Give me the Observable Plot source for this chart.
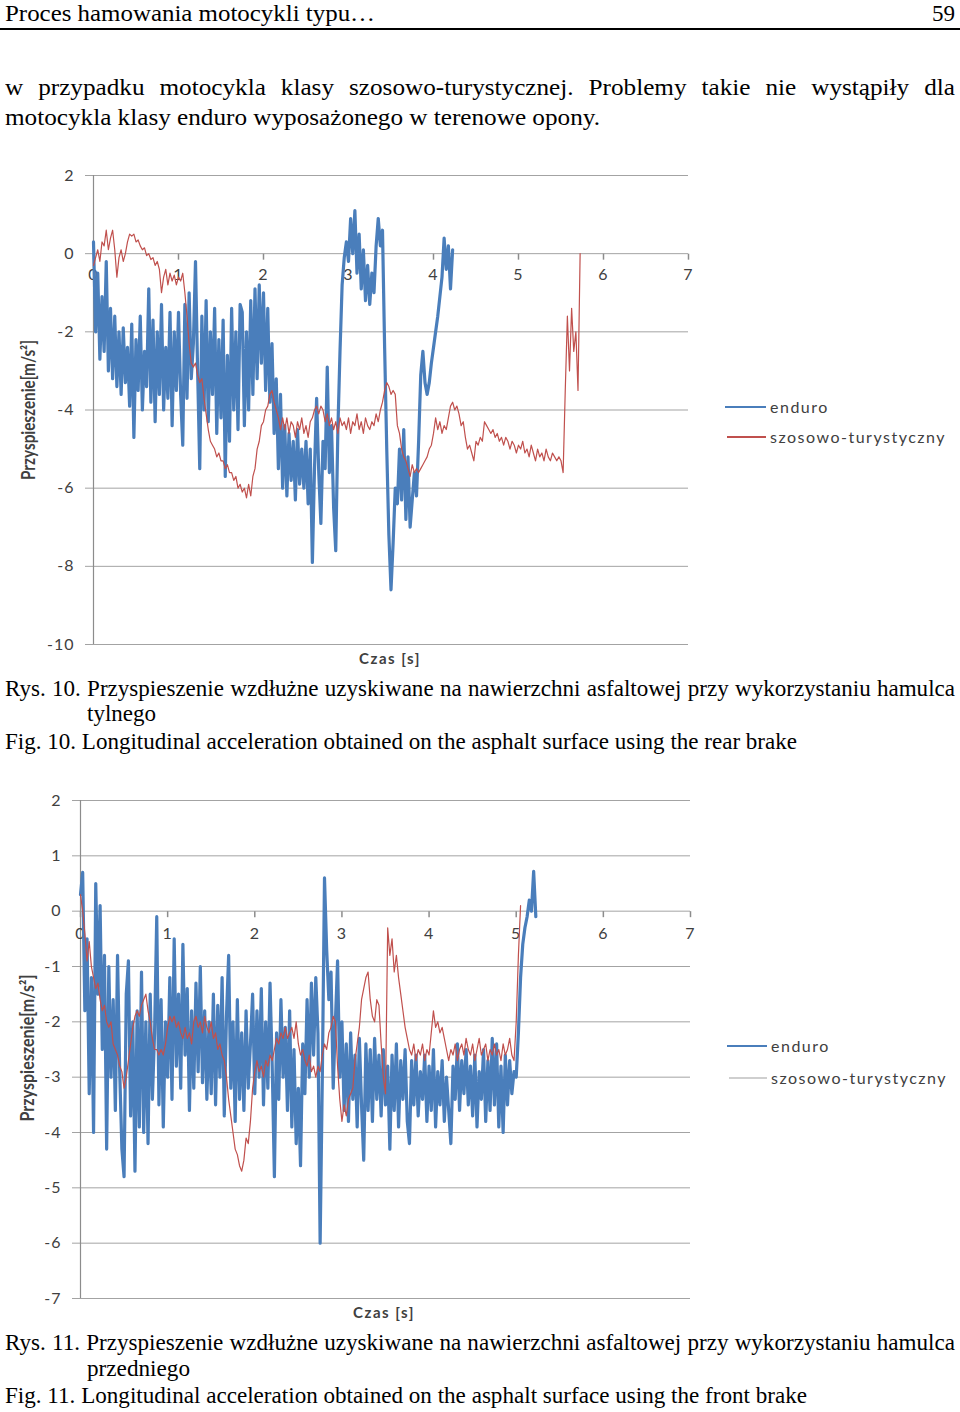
<!DOCTYPE html>
<html><head><meta charset="utf-8">
<script src="https://cdn.jsdelivr.net/npm/d3@7"></script>
<script src="https://cdn.jsdelivr.net/npm/@observablehq/plot@0.6"></script>
<style>
html,body{margin:0;padding:0;background:#fff;}
#page{position:relative;width:960px;height:1412px;overflow:hidden;background:#fff;}
.serif{position:absolute;font-family:"Liberation Serif","Times New Roman",Times,serif;color:#000;line-height:1;white-space:nowrap;transform-origin:0 0;}
.sans{position:absolute;font-family:Lato,"Open Sans",sans-serif;color:#404040;line-height:1;white-space:nowrap;}
.chart{position:absolute;left:0;}
.leg{position:absolute;height:2px;}
</style></head><body><div id="page"></div>
<script>
// ---------- data ----------
const STEP = 0.025; // seconds between samples
const xTicks = [0, 1, 2, 3, 4, 5, 6, 7];
const yTicks1 = [2, 0, -2, -4, -6, -8, -10];
const yTicks2 = [2, 1, 0, -1, -2, -3, -4, -5, -6, -7];
const seriesNames = ["enduro", "szosowo-turystyczny"];

// Rys. 10 – rear brake
const enduro1 = [
  0.3,-2.0,-0.5,-2.7,-1.1,-2.5,-0.2,-3.0,-1.4,-3.2,
  -1.6,-3.4,-2.0,-3.6,-1.9,-3.3,-2.4,-3.9,-1.8,-4.7,
  -2.2,-3.5,-1.6,-4.0,-2.5,-3.4,-0.9,-3.8,-1.7,-4.3,
  -2.0,-3.6,-1.3,-4.0,-2.4,-3.7,-1.5,-4.4,-2.0,-3.5,
  -1.5,-3.6,-4.9,-1.3,-3.7,-1.0,-3.2,-2.3,-0.2,-3.0,
  -5.5,-1.6,-4.0,-1.2,-4.3,-2.0,-3.6,-1.4,-4.6,-2.2,
  -4.2,-1.7,-5.7,-2.6,-4.8,-1.4,-4.0,-2.0,-4.5,-1.3,
  -1.5,-4.4,-2.0,-4.0,-1.2,-3.6,-0.9,-3.2,-0.8,-2.8,
  -1.0,-3.5,-1.4,-3.8,-2.3,-4.6,-3.2,-5.5,-3.6,-6.0,
  -4.4,-6.2,-4.6,-5.8,-4.8,-6.3,-4.5,-5.9,-5.0,-6.0,
  -4.8,-6.4,-5.0,-7.9,-5.5,-3.7,-5.6,-6.9,-4.8,-5.5,
  -2.9,-5.6,-4.4,-6.5,-7.6,-4.5,-2.5,-0.8,-0.1,0.3,
  -0.2,0.9,0.0,1.1,-0.5,0.5,-0.9,0.1,-1.2,-0.3,
  -1.3,-0.5,-1.0,0.2,0.9,0.2,0.6,-2.4,-5.0,-7.2,
  -8.6,-7.4,-6.0,-6.4,-5.0,-6.3,-4.5,-6.8,-5.2,-7.0,
  -6.3,-5.6,-6.2,-4.8,-3.1,-2.5,-3.3,-3.6,-3.3,-2.8,
  -2.4,-2.0,-1.6,-1.1,-0.6,0.4,-0.4,0.2,-0.9,0.1
];
const szosowo1 = [
  -0.3,-0.1,0.1,-0.2,0.3,0.2,0.6,0.1,0.4,0.6,
  0.1,-0.6,-0.1,0.1,-0.2,0.0,0.3,0.5,0.45,0.5,
  0.3,0.35,0.2,0.1,0.15,-0.05,0.0,-0.15,-0.1,-0.3,
  -0.2,-0.4,-1.0,-0.6,-0.4,-0.8,-0.5,-0.7,-0.55,-0.8,
  -0.6,-0.7,-0.5,-1.0,-1.6,-2.3,-2.8,-2.9,-2.8,-3.1,
  -3.3,-3.2,-3.7,-4.1,-4.5,-4.8,-4.9,-5.0,-5.2,-5.1,
  -5.3,-5.3,-5.5,-5.4,-5.6,-5.6,-5.8,-5.7,-6.0,-5.9,
  -6.1,-6.0,-6.25,-5.9,-6.2,-5.7,-5.5,-5.0,-4.8,-4.4,
  -4.3,-4.0,-3.9,-3.6,-3.5,-3.8,-4.0,-4.2,-4.5,-4.2,
  -4.5,-4.2,-4.6,-4.3,-4.4,-4.7,-4.3,-4.5,-4.2,-4.6,
  -4.4,-4.7,-4.3,-4.2,-4.0,-3.9,-4.1,-3.9,-4.0,-4.3,
  -4.1,-4.4,-4.2,-4.5,-4.3,-4.6,-4.2,-4.4,-4.3,-4.5,
  -4.2,-4.6,-4.3,-4.4,-4.1,-4.5,-4.3,-4.6,-4.2,-4.4,
  -4.5,-4.3,-4.4,-4.1,-4.3,-4.0,-3.8,-3.5,-3.3,-3.4,
  -3.6,-3.5,-3.6,-4.4,-4.6,-5.0,-5.2,-5.3,-5.5,-5.7,
  -5.4,-5.6,-5.5,-5.6,-5.5,-5.4,-5.3,-5.2,-5.0,-4.9,
  -4.6,-4.2,-4.5,-4.3,-4.6,-4.4,-4.5,-4.2,-3.9,-3.8,
  -4.0,-3.9,-4.1,-4.4,-4.3,-4.7,-5.0,-4.9,-5.1,-5.3,
  -4.8,-4.9,-4.7,-4.8,-4.3,-4.4,-4.5,-4.6,-4.5,-4.7,
  -4.6,-4.8,-4.7,-4.9,-4.7,-4.8,-5.0,-4.8,-4.9,-5.1,
  -4.9,-5.0,-4.8,-5.1,-5.0,-5.2,-4.9,-5.1,-5.3,-5.0,
  -5.2,-5.1,-5.3,-5.0,-5.2,-5.3,-5.1,-5.2,-5.3,-5.2,
  -5.3,-5.6,-3.5,-1.6,-3.0,-1.4,-2.5,-2.0,-3.5,0.0
];

// Rys. 11 – front brake
const enduro2 = [
  0.3,0.7,-1.8,-0.5,-3.3,-1.2,-4.0,0.5,-1.5,0.1,
  -2.5,-0.8,-4.3,-1.0,-3.0,-1.6,-3.6,-0.8,-2.9,-4.3,
  -4.8,-1.5,-0.9,-3.7,-2.0,-4.7,-1.8,-3.9,-1.1,-4.0,
  -2.0,-4.2,-1.5,-3.4,-2.2,-0.1,-3.5,-1.6,-3.9,-2.0,
  -3.0,-1.2,-3.4,-0.5,-2.8,-1.5,-3.2,-0.6,-2.6,-1.4,
  -3.6,-1.8,-3.2,-1.3,-2.9,-1.0,-3.1,-1.8,-3.4,-2.0,
  -3.3,-1.5,-3.5,-1.7,-3.0,-1.2,-3.7,-1.9,-0.8,-3.2,
  -2.0,-3.8,-1.6,-3.4,-2.2,-3.6,-1.8,-3.2,-2.4,-1.5,
  -3.3,-1.8,-3.0,-1.4,-3.5,-2.0,-3.2,-1.3,-2.8,-4.8,
  -2.2,-3.4,-1.6,-3.0,-2.1,-3.6,-1.8,-3.9,-2.5,-4.2,
  -3.2,-4.6,-2.4,-3.3,-1.6,-3.0,-1.3,-2.6,-1.2,-2.2,
  -6.0,-3.0,0.6,-0.7,-1.6,-1.1,-3.2,-2.0,-0.9,-3.0,
  -2.0,-3.6,-2.4,-3.8,-2.2,-3.4,-2.6,-3.9,-2.3,-3.5,
  -4.5,-2.4,-3.6,-2.5,-3.8,-2.3,-3.4,-2.6,-3.7,-2.5,
  -3.5,-2.8,-4.3,-2.6,-3.6,-2.4,-3.9,-2.7,-3.4,-2.5,
  -3.8,-4.2,-2.7,-3.5,-2.6,-3.7,-2.9,-3.4,-2.6,-3.8,
  -2.8,-3.6,-2.5,-3.9,-2.9,-3.5,-2.7,-3.8,-3.0,-3.6,
  -4.2,-2.8,-3.4,-2.4,-3.6,-2.7,-3.3,-2.5,-3.5,-2.8,
  -3.7,-2.6,-3.9,-2.9,-3.4,-2.5,-3.8,-2.7,-3.6,-2.3,
  -3.5,-2.4,-3.9,-2.8,-4.0,-2.6,-3.5,-2.7,-3.3,-2.9,
  -3.0,-2.2,-1.2,-0.6,-0.3,-0.1,0.2,0.0,0.72,-0.1
];
const szosowo2 = [
  0.3,0.0,-0.4,-0.9,-0.55,-1.0,-1.2,-1.4,-1.3,-1.6,
  -1.8,-1.7,-2.0,-2.1,-2.0,-2.4,-2.5,-2.6,-2.8,-2.9,
  -3.2,-3.0,-2.7,-2.4,-2.1,-1.9,-1.8,-1.9,-1.7,-1.6,
  -1.5,-1.8,-2.0,-2.3,-2.5,-2.5,-2.6,-2.5,-2.6,-2.4,
  -2.1,-1.9,-2.0,-1.9,-2.1,-2.0,-2.2,-2.3,-2.1,-2.3,
  -2.2,-2.4,-2.0,-1.9,-2.1,-2.0,-2.2,-1.9,-2.1,-2.2,
  -2.0,-2.3,-2.2,-2.5,-2.4,-2.6,-2.7,-3.0,-3.4,-3.7,
  -4.0,-4.3,-4.4,-4.6,-4.7,-4.5,-4.1,-4.2,-3.8,-3.2,
  -2.9,-2.7,-2.9,-2.8,-3.0,-2.7,-2.8,-2.6,-2.7,-2.5,
  -2.3,-2.4,-2.2,-2.3,-2.1,-2.3,-2.2,-2.1,-2.3,-2.0,
  -2.4,-2.6,-2.5,-2.7,-2.8,-2.6,-2.9,-2.8,-3.0,-2.8,
  -2.9,-2.6,-2.4,-2.5,-2.2,-2.1,-1.9,-2.0,-2.8,-3.4,
  -3.8,-3.5,-3.7,-3.4,-3.3,-3.2,-2.7,-2.4,-2.1,-1.6,
  -1.4,-1.2,-1.1,-1.6,-1.9,-2.0,-1.6,-1.7,-2.4,-3.0,
  -3.3,-0.3,-0.8,-0.5,-1.1,-0.8,-1.2,-1.5,-1.8,-2.1,
  -2.3,-2.5,-2.6,-2.4,-2.7,-2.5,-2.6,-2.4,-2.7,-2.5,
  -2.6,-2.2,-1.8,-2.1,-2.0,-2.2,-2.1,-2.3,-2.5,-2.7,
  -2.5,-2.6,-2.4,-2.7,-2.5,-2.4,-2.6,-2.3,-2.5,-2.6,
  -2.4,-2.7,-2.5,-2.3,-2.6,-2.5,-2.4,-2.7,-2.5,-2.6,
  -2.4,-2.6,-2.5,-2.7,-2.4,-2.6,-2.5,-2.3,-2.6,-2.7,
  -2.0,-0.8,0.1
];

// ---------- helpers ----------
const page = document.getElementById("page");
const BLUE = "#4a7ebb", RED = "#c0504d";

function serif(text, {x, baseline, size, width, justify}) {
  const d = document.createElement("div");
  d.className = "serif";
  d.style.fontSize = size + "px";
  d.textContent = text;
  page.appendChild(d);
  d.style.left = x + "px";
  d.style.top = (baseline - 0.8375 * size) + "px";
  if (justify) {
    const s = justify.scale;
    d.style.whiteSpace = "normal";
    d.style.width = (width / s) + "px";
    d.style.textAlign = "justify";
    d.style.textAlignLast = "justify";
    d.style.transform = `scaleX(${s})`;
  } else if (width) {
    const nat = d.getBoundingClientRect().width;
    d.style.transform = `scaleX(${width / nat})`;
    d.dataset.scale = width / nat;
  }
  return d;
}
function sans(text, {x, y, size, bold, anchor = "start", ls = 0}) {
  const d = document.createElement("div");
  d.className = "sans";
  d.style.fontSize = size + "px";
  if (bold) d.style.fontWeight = "700";
  d.style.letterSpacing = ls + "px";
  d.textContent = text;
  d.style.left = x + "px";
  d.style.top = y + "px";
  const tx = anchor === "middle" ? "-50%" : "0";
  d.style.transform = `translate(${tx},-50%)`;
  page.appendChild(d);
  return d;
}
function vtitle(text, {x, y, size, length}) {
  const d = document.createElement("div");
  d.className = "sans";
  d.style.fontSize = size + "px";
  d.style.fontWeight = "700";
  d.textContent = text;
  page.appendChild(d);
  const nat = d.getBoundingClientRect().width;
  d.style.left = x + "px";
  d.style.top = y + "px";
  d.style.transform = `translate(-50%,-50%) rotate(-90deg) scaleX(${length / nat})`;
}
function legLine(x, y, w, color) {
  const d = document.createElement("div");
  d.className = "leg";
  d.style.left = x + "px"; d.style.top = (y - 1) + "px"; d.style.width = w + "px";
  d.style.background = color;
  page.appendChild(d);
}

const toRows = arr => arr.map((v, i) => ({t: i * STEP, v}));
const tickMark = {draw(ctx) { ctx.moveTo(0, 0); ctx.lineTo(0, 6); }};

function chart({en, sz, yTicks, width, height, mL, mR, mT, mB, labelDy, top}) {
  const yDomain = [d3.min(yTicks), d3.max(yTicks)];
  const svg = Plot.plot({
    width, height, marginLeft: mL, marginRight: mR, marginTop: mT, marginBottom: mB,
    style: {fontFamily: "Lato, 'Open Sans', sans-serif", fontSize: "16px", color: "#404040",
            background: "transparent", overflow: "visible", letterSpacing: "1px"},
    x: {domain: [0, 7], axis: null},
    y: {domain: yDomain, ticks: yTicks, tickSize: 0, tickPadding: 19, label: null,
        tickFormat: d => String(d)},
    marks: [
      Plot.ruleY(yTicks, {y: d => d, x1: 0, x2: 7, stroke: "#a3a3a3", strokeWidth: 1, insetLeft: -8}),
      Plot.ruleX([0], {x: d => d, y1: yDomain[0], y2: yDomain[1], stroke: "#8c8c8c", strokeWidth: 1.2}),
      Plot.dot(xTicks, {x: d => d, y: 0, symbol: tickMark, stroke: "#8c8c8c", fill: "none", r: 3}),
      Plot.text(xTicks, {x: d => d, y: 0, text: d => String(d), dy: labelDy, fontSize: 16, fill: "#404040"}),
      Plot.line(toRows(en), {x: "t", y: "v", stroke: BLUE, strokeWidth: 3.2, strokeLinejoin: "round"}),
      Plot.line(toRows(sz), {x: "t", y: "v", stroke: RED, strokeWidth: 1.2})
    ]
  });
  svg.classList.add("chart");
  svg.style.top = top + "px";
  page.appendChild(svg);
}

// ---------- header & paragraph ----------
serif("Proces hamowania motocykli typu…", {x: 5, baseline: 21, size: 23, width: 370});
serif("59", {x: 932, baseline: 21, size: 23, width: 23});
const rule = document.createElement("div");
rule.style.cssText = "position:absolute;left:0;top:28px;width:960px;height:2px;background:#000;";
page.appendChild(rule);

const p2 = serif("motocykla klasy enduro wyposażonego w terenowe opony.", {x: 5, baseline: 125, size: 24, width: 595});
const sP = +p2.dataset.scale;
serif("w przypadku motocykla klasy szosowo-turystycznej. Problemy takie nie wystąpiły dla",
      {x: 5, baseline: 95, size: 24, width: 950, justify: {scale: sP}});

// ---------- chart 1 ----------
chart({en: enduro1, sz: szosowo1, yTicks: yTicks1, width: 700, height: 500,
       mL: 93, mR: 12, mT: 15, mB: 16, labelDy: 21, top: 160});
vtitle("Przyspieszenie[m/s²]", {x: 28, y: 410, size: 18, length: 140});
sans("Czas [s]", {x: 390, y: 658, size: 15, bold: true, anchor: "middle", ls: 1.5});
legLine(725, 407, 41, BLUE);
legLine(727, 437, 39, RED);
sans(seriesNames[0], {x: 770, y: 407, size: 16, ls: 1.5});
sans(seriesNames[1], {x: 770, y: 437, size: 16, ls: 1.5});

// caption 1
const c13 = serif("Fig. 10. Longitudinal acceleration obtained on the asphalt surface using the rear brake",
      {x: 5, baseline: 749, size: 24, width: 792});
const sC = +c13.dataset.scale;
serif("Rys. 10. Przyspieszenie wzdłużne uzyskiwane na nawierzchni asfaltowej przy wykorzystaniu hamulca",
      {x: 5, baseline: 696, size: 24, width: 950, justify: {scale: sC}});
serif("tylnego", {x: 87, baseline: 721, size: 24, width: 69});

// ---------- chart 2 ----------
chart({en: enduro2, sz: szosowo2, yTicks: yTicks2, width: 700, height: 520,
       mL: 80, mR: 10, mT: 10, mB: 12, labelDy: 23, top: 790});
vtitle("Przyspieszenie[m/s²]", {x: 27, y: 1048, size: 18, length: 147});
sans("Czas [s]", {x: 384, y: 1312, size: 15, bold: true, anchor: "middle", ls: 1.5});
legLine(727, 1046, 40, BLUE);
legLine(729, 1078, 38, "#cfcfcf");
sans(seriesNames[0], {x: 771, y: 1046, size: 16, ls: 1.5});
sans(seriesNames[1], {x: 771, y: 1078, size: 16, ls: 1.5});

// caption 2
const c23 = serif("Fig. 11. Longitudinal acceleration obtained on the asphalt surface using the front brake",
      {x: 5, baseline: 1403, size: 24, width: 802});
const sC2 = +c23.dataset.scale;
serif("Rys. 11. Przyspieszenie wzdłużne uzyskiwane na nawierzchni asfaltowej przy wykorzystaniu hamulca",
      {x: 5, baseline: 1350, size: 24, width: 950, justify: {scale: sC2}});
serif("przedniego", {x: 87, baseline: 1376, size: 24, width: 103});
</script></body></html>
